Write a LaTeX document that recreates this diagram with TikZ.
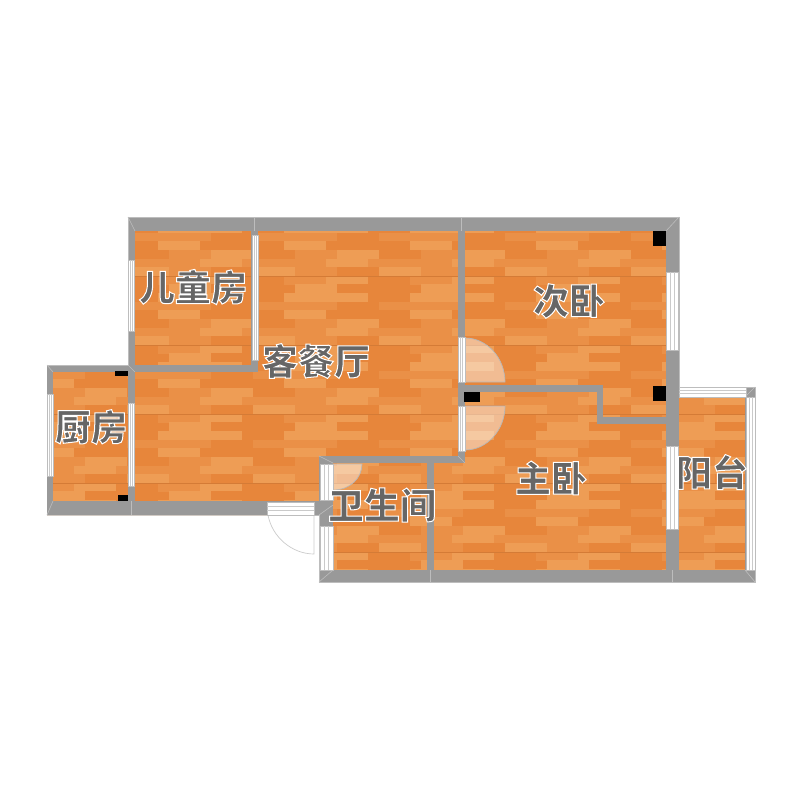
\documentclass[tikz,border=0pt]{standalone}
\usepackage{fontspec}
\newfontfamily\cjk{Noto Sans CJK SC}
\definecolor{woodD}{HTML}{E7863B}
\definecolor{woodM}{HTML}{EA9047}
\definecolor{woodL}{HTML}{EE9D55}
\definecolor{wallgray}{HTML}{999999}
\definecolor{wallline}{HTML}{BDBDBD}
\definecolor{labelgray}{HTML}{666666}
\newcommand{\halo}[1]{\special{pdf:code q 2 Tr 1 w 1 1 1 RG}#1\special{pdf:code Q}}
\tikzset{
    wall/.style ={fill=wallgray,draw=none},
    seam/.style ={draw=wallline,line width=0.6pt},
    winframe/.style ={fill=white,draw=wallline,line width=0.8pt},
    winbar/.style ={draw=wallline!80,line width=0.8pt},
    doorleaf/.style ={fill=white,fill opacity=0.45,draw=wallgray!70,line width=0.7pt},
    column/.style ={fill=black,draw=none},
    roomlabel/.style ={font=\cjk\bfseries\fontsize{36}{38}\selectfont,text=labelgray,inner sep=0pt}}
\newcommand{\winV}[4]{
    \draw[winframe] (#1,#2) rectangle (#3,#4);
    \draw[winbar] ({#1+(#3-#1)/3},#2) -- ({#1+(#3-#1)/3},#4);
    \draw[winbar] ({#1+2*(#3-#1)/3},#2) -- ({#1+2*(#3-#1)/3},#4);}
\newcommand{\winH}[4]{
    \draw[winframe] (#1,#2) rectangle (#3,#4);
    \draw[winbar] (#1,{#2+(#4-#2)/3}) -- (#3,{#2+(#4-#2)/3});
    \draw[winbar] (#1,{#2+2*(#4-#2)/3}) -- (#3,{#2+2*(#4-#2)/3});}
\begin{document}
\begin{tikzpicture}[x=1pt,y=-1pt]
    \fill[white] (0,0) rectangle (800,800);
    % floor
    \begin{scope}
        \clip (47,365) -- (128,365) -- (128,217) -- (679,217) -- (679,387) -- (755,387) -- (755,582)
            -- (319,582) -- (319,515) -- (47,515) -- cycle;
        \fill[woodM] (47,217) rectangle (755,582);
        \foreach \tx in {-2,-1,0,1,2,3,4}{
            \foreach \ty in {-1,0,1,2,3,4}{
                \foreach \ro/\off/\ca/\cb/\cc in {0/295/woodM/woodD/woodM,1/284/woodL/woodD/woodD,
                    2/295/woodM/woodL/woodD,3/284/woodM/woodL/woodM,4/295/woodM/woodD/woodL,
                    5/284/woodM/woodL/woodD,6/295/woodL/woodD/woodD,7/284/woodL/woodL/woodD}{
                    \pgfmathsetmacro{\px}{\off+126*\tx}
                    \pgfmathsetmacro{\py}{232.7+69*\ty+8.62*\ro}
                    \fill[\ca] (\px,\py) rectangle ({\px+42},{\py+8.7});
                    \fill[\cb] ({\px+42},\py) rectangle ({\px+84},{\py+8.7});
                    \fill[\cc] ({\px+84},\py) rectangle ({\px+126},{\py+8.7});
                }
                \draw[woodD!92!black,line width=0.4pt] (47,{276+69*\ty}) -- (755,{276+69*\ty});
            }
        }
    \end{scope}
    % walls
    \foreach \xa/\ya/\xb/\yb in {128/217/679/231,128/217/135/372,128/365/258/372,251/231/258/372,
        47/365/135/372,47/365/53/515,128/365/135/515,47/501/319/515,319/456/333/582,
        319/456/465/463,458/217/465/463,427/456/434/582,319/570/755/582,666/217/679/582,
        458/385/603/392,597/385/603/424,597/417/672/424,679/387/755/397,745/387/755/582}{
        \fill[wall] (\xa,\ya) rectangle (\xb,\yb);
    }
    % corner seams
    \foreach \xa/\ya/\xb/\yb in {128/217/135/231,679/217/666/231,47/365/53/372,47/515/53/501,
        319/582/333/570,755/582/745/570,755/387/745/397,319/456/333/463,465/463/458/456,
        254/217/254/231,461/217/461/231,131/501/131/515,430/570/430/582,672/570/672/582,
        128/365/135/372,319/515/333/505}{
        \draw[seam] (\xa,\ya) -- (\xb,\yb);
    }
    \draw[wallline,line width=0.8pt] (47,365) -- (128,365) -- (128,217) -- (679,217) -- (679,387)
        -- (755,387) -- (755,582) -- (319,582) -- (319,515) -- (267,515) (267,515) -- (47,515) -- cycle;
    % columns
    \fill[column] (653,231) rectangle (666,246);
    \fill[column] (653,386) rectangle (666,401);
    \fill[column] (464,392) rectangle (480,402);
    \fill[column] (115,371) rectangle (128,376);
    \fill[column] (118,495) rectangle (128,501);
    % door leaves
    \draw[doorleaf] (465,382) -- (465,338) .. controls (487,338) and (505,358) .. (505,382) -- cycle;
    \draw[doorleaf] (465,406) -- (505,406) .. controls (505,430) and (487,450) .. (465,450) -- cycle;
    \draw[doorleaf] (333,464) -- (362,464) .. controls (362,478) and (350,490) .. (333,490) -- cycle;
    \draw[wallgray!50,line width=0.7pt] (268,515) .. controls (272,537) and (292,554) .. (314,554) -- (314,515);
    % windows
    \winV{47}{394}{53}{476}
    \winV{128}{403}{134}{486}
    \winV{128}{260}{134}{331}
    \winV{252}{235}{258}{360}
    \winV{458}{337}{465}{382}
    \winV{458}{406}{465}{451}
    \winV{666}{272}{678}{350}
    \winV{666}{446}{678}{529}
    \winV{746}{397}{755}{570}
    \winV{320}{464}{333}{500}
    \winV{320}{526}{333}{570}
    \winH{679}{387}{746}{397}
    \winH{267}{502}{314}{515}
    % labels
    \node[roomlabel] (kidroom) at (193,287) {\halo{儿童房}};
    \node[roomlabel] (living) at (316,361) {\halo{客餐厅}};
    \node[roomlabel] (second) at (569,301) {\halo{次卧}};
    \node[roomlabel] (master) at (551,478) {\halo{主卧}};
    \node[roomlabel] (bath) at (382,505) {\halo{卫生间}};
    \node[roomlabel] (kitchen) at (91,427) {\halo{厨房}};
    \node[roomlabel] (balcony) at (712,472) {\halo{阳台}};
\end{tikzpicture}
\end{document}
